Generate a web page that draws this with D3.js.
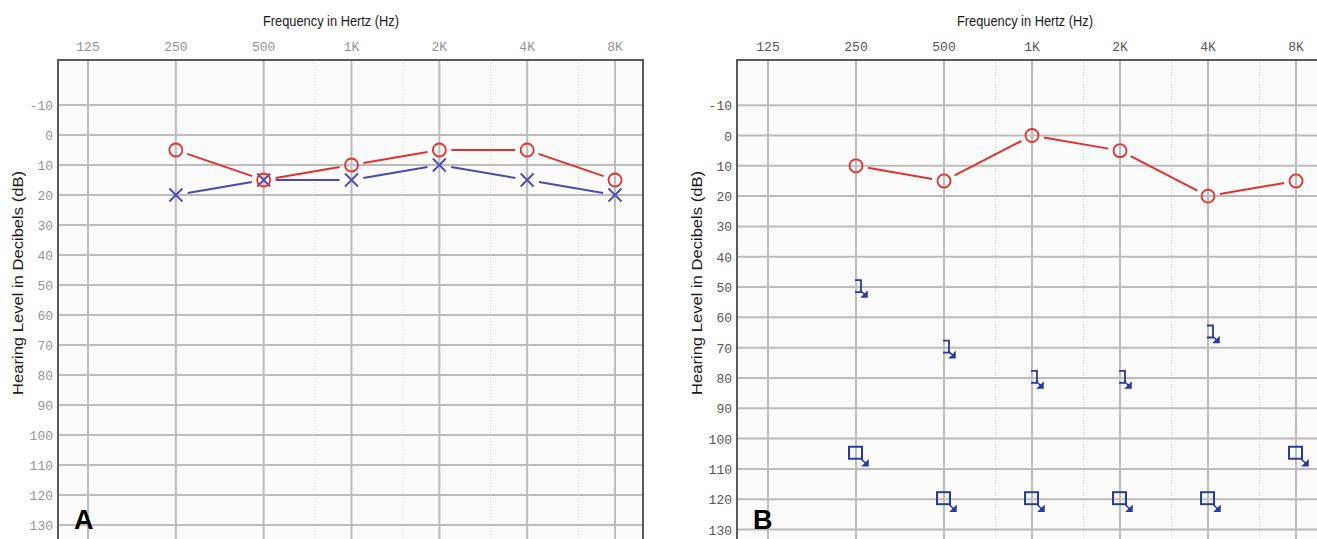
<!DOCTYPE html>
<html>
<head>
<meta charset="utf-8">
<script src="https://cdn.jsdelivr.net/npm/d3@7"></script>
<style>
  body { margin: 0; background: #fff; }
  svg { display: block; }
  .title { font-family: 'Liberation Sans', Arial, sans-serif; font-size: 15px; fill: #1a1a1a; }
  .tick { font-family: 'Liberation Mono', 'Courier New', monospace; font-size: 13px; fill: #8a8a8a; }
  .letter { font-family: 'Liberation Sans', Arial, sans-serif; font-size: 27px; font-weight: bold; fill: #000; }
</style>
</head>
<body>
<div id="chart"></div>
<script>
var FREQS = [125, 250, 500, 1000, 2000, 4000, 8000];
var FREQ_LABELS = ['125', '250', '500', '1K', '2K', '4K', '8K'];
var MID_FREQS = [750, 1500, 3000, 6000];
var DB_TICKS = [-10, 0, 10, 20, 30, 40, 50, 60, 70, 80, 90, 100, 110, 120, 130];

var TEST_FREQS = [250, 500, 1000, 2000, 4000, 8000];

// panel A
var A_RIGHT_AC = [5, 15, 10, 5, 5, 15];
var A_LEFT_AC = [20, 15, 15, 10, 15, 20];

// panel B
var B_RIGHT_AC = [10, 15, 0, 5, 20, 15];
var B_BC_FREQS = [250, 500, 1000, 2000, 4000];
var B_LEFT_BC = [50, 70, 80, 80, 65];
var B_LEFT_AC = [105, 120, 120, 120, 120, 105];

var RED = '#e2312d',
    BLUE = '#4a4ab0',
    NAVY = '#2a3aa0';

var w = 1317, h = 539;

var svg = d3.select('#chart').append('svg')
    .attr('width', w)
    .attr('height', h);

function makePanel(p) {
    var g = svg.append('g');
    var x = d3.scaleLog().base(2).domain([125, 8000]).range(p.xr);
    var y = d3.scaleLinear().domain([0, 130]).range(p.yr);

    g.append('rect')
        .attr('x', p.left).attr('y', p.top)
        .attr('width', p.right - p.left).attr('height', p.bottom - p.top)
        .attr('fill', '#fbfbfb');

    // dotted inter-octave lines
    g.selectAll('.mid').data(MID_FREQS).enter().append('line')
        .attr('x1', function(d) { return x(d); })
        .attr('x2', function(d) { return x(d); })
        .attr('y1', p.top).attr('y2', p.bottom)
        .attr('stroke', '#cfcfcf')
        .attr('stroke-width', 1)
        .attr('stroke-dasharray', '1,2');

    g.selectAll('.vgrid').data(FREQS).enter().append('line')
        .attr('x1', function(d) { return x(d); })
        .attr('x2', function(d) { return x(d); })
        .attr('y1', p.top).attr('y2', p.bottom)
        .attr('stroke', '#bcbcbc')
        .attr('stroke-width', 2);

    g.selectAll('.hgrid').data(DB_TICKS).enter().append('line')
        .attr('x1', p.left).attr('x2', p.right)
        .attr('y1', function(d) { return y(d); })
        .attr('y2', function(d) { return y(d); })
        .attr('stroke', '#bcbcbc')
        .attr('stroke-width', 2);

    g.append('rect')
        .attr('x', p.left).attr('y', p.top)
        .attr('width', p.right - p.left).attr('height', p.bottom - p.top)
        .attr('fill', 'none')
        .attr('stroke', '#5a5a5a')
        .attr('stroke-width', 2);

    // top tick labels
    g.selectAll('.xl').data(FREQS).enter().append('text')
        .attr('class', 'tick')
        .attr('x', function(d) { return x(d); })
        .attr('y', p.top - 9)
        .attr('text-anchor', 'middle')
        .style('fill', p.tickColor)
        .text(function(d, i) { return FREQ_LABELS[i]; });

    g.selectAll('.yl').data(DB_TICKS).enter().append('text')
        .attr('class', 'tick')
        .attr('x', p.left - 5)
        .attr('y', function(d) { return y(d) + 5; })
        .attr('text-anchor', 'end')
        .style('fill', p.tickColor)
        .text(function(d) { return d; });

    g.append('text')
        .attr('class', 'title')
        .attr('x', p.titleX)
        .attr('y', 26)
        .attr('text-anchor', 'middle')
        .attr('textLength', 136)
        .attr('lengthAdjust', 'spacingAndGlyphs')
        .text('Frequency in Hertz (Hz)');

    g.append('text')
        .attr('class', 'title')
        .attr('transform', 'translate(' + (p.left - 35) + ',283) rotate(-90)')
        .attr('text-anchor', 'middle')
        .attr('textLength', 224)
        .attr('lengthAdjust', 'spacingAndGlyphs')
        .text('Hearing Level in Decibels (dB)');

    g.append('text')
        .attr('class', 'letter')
        .attr('x', p.left + 16)
        .attr('y', 529)
        .text(p.letter);

    return { g: g, x: x, y: y };
}

// connecting line, broken near each symbol
function drawLine(panel, freqs, vals, color, gap) {
    var pts = freqs.map(function(f, i) { return [panel.x(f), panel.y(vals[i])]; });
    var segs = d3.pairs(pts);
    panel.g.selectAll(null).data(segs).enter().append('line')
        .attr('x1', function(d) { return cut(d[0], d[1], gap)[0]; })
        .attr('y1', function(d) { return cut(d[0], d[1], gap)[1]; })
        .attr('x2', function(d) { return cut(d[1], d[0], gap)[0]; })
        .attr('y2', function(d) { return cut(d[1], d[0], gap)[1]; })
        .attr('stroke', color)
        .attr('stroke-width', 2);
}

function cut(a, b, gap) {
    var dx = b[0] - a[0], dy = b[1] - a[1],
        len = Math.sqrt(dx * dx + dy * dy);
    return [a[0] + dx / len * gap, a[1] + dy / len * gap];
}

function drawCircles(panel, freqs, vals) {
    panel.g.selectAll(null).data(vals).enter().append('circle')
        .attr('cx', function(d, i) { return panel.x(freqs[i]); })
        .attr('cy', function(d) { return panel.y(d); })
        .attr('r', 6.5)
        .attr('fill', 'none')
        .attr('stroke', RED)
        .attr('stroke-width', 1.8);
}

function drawCrosses(panel, freqs, vals) {
    var s = 6.5;
    panel.g.selectAll(null).data(vals).enter().append('path')
        .attr('d', function(d, i) {
            var cx = panel.x(freqs[i]), cy = panel.y(d);
            return 'M' + (cx - s) + ',' + (cy - s) + 'L' + (cx + s) + ',' + (cy + s) +
                   'M' + (cx + s) + ',' + (cy - s) + 'L' + (cx - s) + ',' + (cy + s);
        })
        .attr('fill', 'none')
        .attr('stroke', BLUE)
        .attr('stroke-width', 1.8);
}

// small no-response arrow pointing down-right
function arrowPath(ax, ay) {
    return 'M' + ax + ',' + ay + 'L' + (ax + 5) + ',' + (ay + 5) +
           'M' + (ax + 7) + ',' + (ay + 2) + 'L' + (ax + 7) + ',' + (ay + 7) + 'L' + (ax + 2) + ',' + (ay + 7) + 'Z';
}

function drawBrackets(panel, freqs, vals) {
    panel.g.selectAll(null).data(vals).enter().append('path')
        .attr('d', function(d, i) {
            var cx = panel.x(freqs[i]), cy = panel.y(d);
            return 'M' + (cx - 1) + ',' + (cy - 7) + 'L' + (cx + 5) + ',' + (cy - 7) +
                   'L' + (cx + 5) + ',' + (cy + 5) + 'L' + (cx - 1) + ',' + (cy + 5);
        })
        .attr('fill', 'none')
        .attr('stroke', NAVY)
        .attr('stroke-width', 1.8);
    panel.g.selectAll(null).data(vals).enter().append('path')
        .attr('d', function(d, i) { return arrowPath(panel.x(freqs[i]) + 4, panel.y(d) + 3); })
        .attr('fill', NAVY)
        .attr('stroke', NAVY)
        .attr('stroke-width', 1.5);
}

function drawSquares(panel, freqs, vals) {
    panel.g.selectAll(null).data(vals).enter().append('rect')
        .attr('x', function(d, i) { return panel.x(freqs[i]) - 7; })
        .attr('y', function(d) { return panel.y(d) - 7; })
        .attr('width', 13).attr('height', 12)
        .attr('fill', 'none')
        .attr('stroke', NAVY)
        .attr('stroke-width', 2);
    panel.g.selectAll(null).data(vals).enter().append('path')
        .attr('d', function(d, i) { return arrowPath(panel.x(freqs[i]) + 5, panel.y(d) + 5); })
        .attr('fill', NAVY)
        .attr('stroke', NAVY)
        .attr('stroke-width', 1.5);
}

var panelA = makePanel({
    left: 58, top: 60, right: 643, bottom: 580,
    xr: [88, 615], yr: [135, 525],
    titleX: 331, letter: 'A', tickColor: '#949494'
});
drawLine(panelA, TEST_FREQS, A_LEFT_AC, BLUE, 12);
drawLine(panelA, TEST_FREQS, A_RIGHT_AC, RED, 12);
drawCrosses(panelA, TEST_FREQS, A_LEFT_AC);
drawCircles(panelA, TEST_FREQS, A_RIGHT_AC);

var panelB = makePanel({
    left: 737, top: 60, right: 1330, bottom: 580,
    xr: [768, 1296], yr: [135.5, 529.5],
    titleX: 1025, letter: 'B', tickColor: '#555'
});
drawLine(panelB, TEST_FREQS, B_RIGHT_AC, RED, 12);
drawCircles(panelB, TEST_FREQS, B_RIGHT_AC);
drawBrackets(panelB, B_BC_FREQS, B_LEFT_BC);
drawSquares(panelB, TEST_FREQS, B_LEFT_AC);
</script>
</body>
</html>
